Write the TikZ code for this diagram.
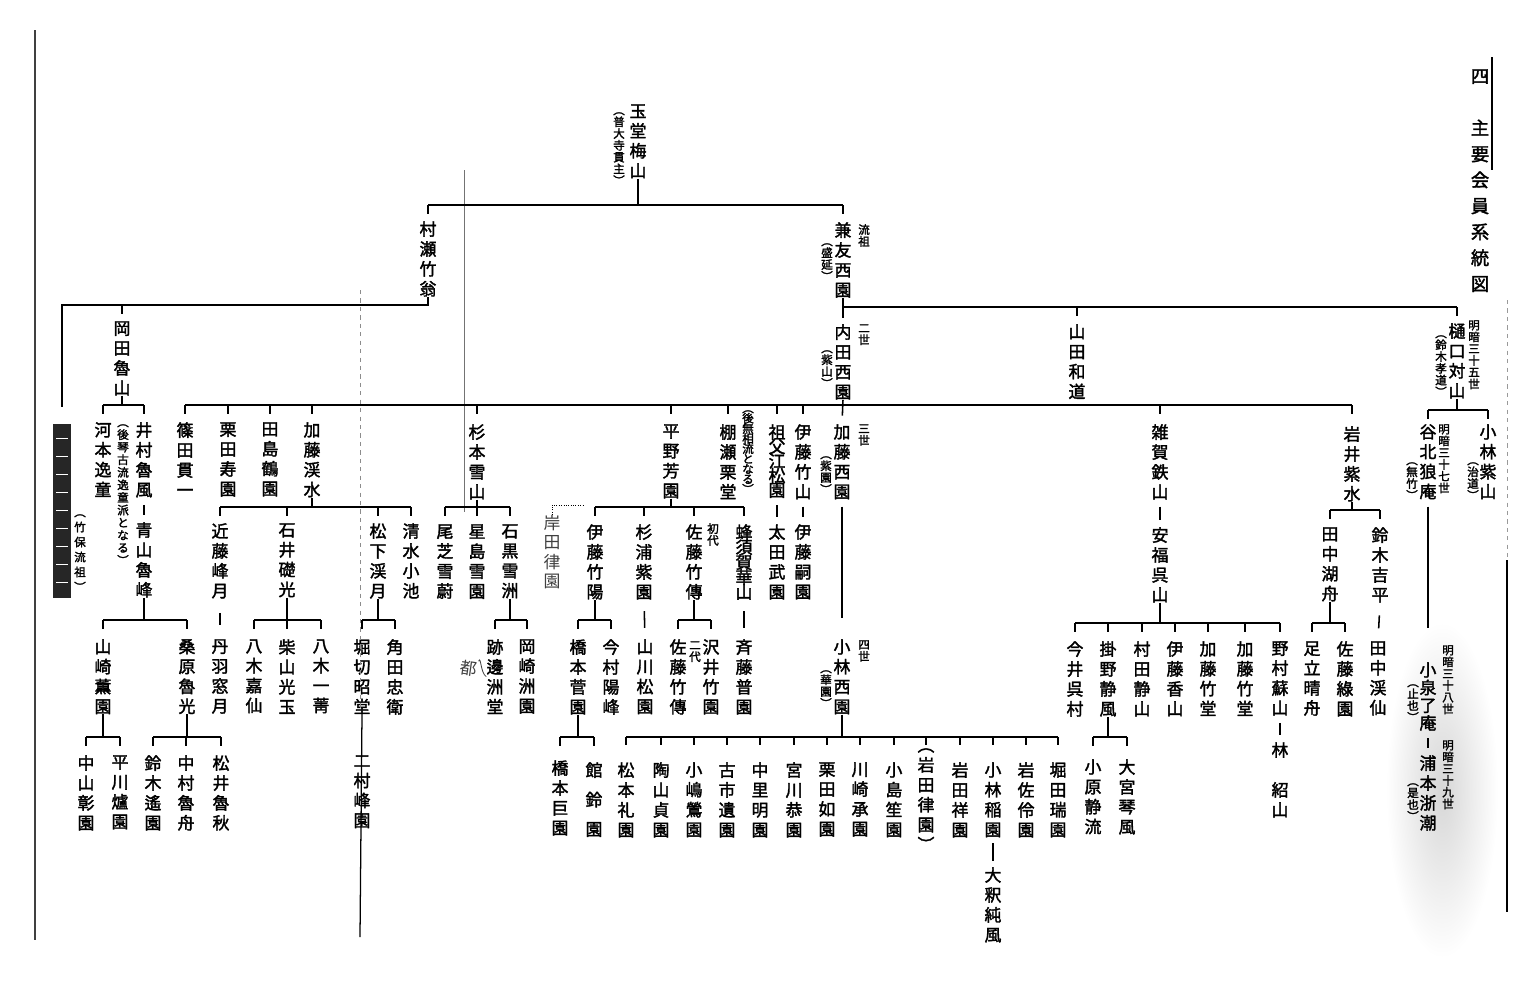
\documentclass[tikz,border=0pt]{standalone}
\usepackage{fontspec}
\setmainfont{Noto Sans CJK JP}
\newfontfamily\jp{Noto Sans CJK JP}[FakeBold=2]
\newfontfamily\jphw{Noto Sans CJK JP}

% texto vertical: un caracter por linea
\makeatletter
\def\tate@fin{\tate@fin}
\def\tate@loop#1{\ifx#1\tate@fin\else\hbox to 1em{\hss#1\hss}\expandafter\tate@loop\fi}
\newcommand\tate[2][\tatepitch]{\vbox{\baselineskip=#1\lineskiplimit=-100pt\lineskip=0pt\tate@loop#2\tate@fin}}
\makeatother
\newcommand\tatepitch{1.18em}
\newcommand\nmfont{\jp\fontsize{12}{14}\selectfont\def\tatepitch{1.18em}}
\newcommand\smfont{\jp\fontsize{8.2}{9}\selectfont\def\tatepitch{1.02em}}
\newcommand\ttlfont{\jp\fontsize{13}{18}\selectfont\def\tatepitch{1.42em}}
\newcommand\hwfont{\jphw\fontsize{12}{14}\selectfont\def\tatepitch{1.15em}}

\begin{document}
\begin{tikzpicture}[
        x=0.025cm, y=-0.025cm,
        nm/.style  = {inner sep=0pt, anchor=north, font=\nmfont},
        sm/.style  = {inner sep=0pt, anchor=north, font=\smfont},
        ttl/.style = {inner sep=0pt, anchor=north, font=\ttlfont},
        hw/.style  = {inner sep=0pt, anchor=north, font=\hwfont, text=black!75},
        ln/.style  = {line width=1.1pt},
        bar/.style = {ln, shorten <=#1, shorten >=#1},
    ]
        \useasboundingbox (0,0) rectangle (1539,1001);
        \fill[white] (0,0) rectangle (1539,1001);
        \shade[inner color=black!16, outer color=white] (1442,790) ellipse [x radius=1.4cm, y radius=4.2cm];

        % ---- niveles de las llaves ----
        \coordinate (h205) at (0,205);
        \coordinate (h305) at (0,305);
        \coordinate (h307) at (0,307);
        \coordinate (h405) at (0,405);
        \coordinate (h410) at (0,410);
        \coordinate (h507) at (0,507);
        \coordinate (h510) at (0,510);
        \coordinate (h620) at (0,620);
        \coordinate (h623) at (0,623);
        \coordinate (h737) at (0,737);

        % ---- titulo ----
        \node (title) [ttl] at (1480,69) {\tate{四　主要会員系統図}};

        % ---- fila 1 y 2 ----
        \node (gyokudo)   [nm] at (638,104) {\tate{玉堂梅山}};
        \node (gyokudoP)  [sm] at (619,112) {\tate{︵普大寺貫主︶}};
        \node (murase)    [nm] at (428,221) {\tate{村瀬竹翁}};
        \node (kanetomo)  [nm] at (843,222) {\tate{兼友西園}};
        \node (kanetomoA) [sm] at (864,224) {\tate{流祖}};
        \node (kanetomoP) [sm] at (827,243) {\tate{︵盛延︶}};

        % ---- fila 3 ----
        \node (okada)     [nm] at (122,321) {\tate{岡田魯山}};
        \node (uchida)    [nm] at (843,324) {\tate{内田西園}};
        \node (uchidaA)   [sm] at (864,324) {\tate{二世}};
        \node (uchidaP)   [sm] at (827,350) {\tate{︵紫山︶}};
        \node (yamada)    [nm] at (1077,324) {\tate{山田和道}};
        \node (higuchi)   [nm] at (1457,323) {\tate{樋口対山}};
        \node (higuchiA)  [sm] at (1474,320) {\tate{明暗三十五世}};
        \node (higuchiP)  [sm] at (1441,335) {\tate{︵鈴木孝道︶}};

        % ---- fila 4 ----
        \node (keshi) [fill=black!85, inner sep=0pt, minimum width=0.45cm,
            minimum height=4.35cm, anchor=north] at (62,424) {};
        \node (keshiP)    [sm] at (80,514) {\tate[1.3em]{︵竹保流祖︶}};
        \node (kawamoto)  [nm] at (103,422) {\tate{河本逸童}};
        \node (imura)     [nm] at (144,422) {\tate{井村魯風}};
        \node (imuraP)    [sm] at (123,424) {\tate[1.09em]{︵後琴古流逸童派となる︶}};
        \node (shinoda)   [nm] at (185,422) {\tate{篠田貫一}};
        \node (kurita)    [nm] at (228,422) {\tate{栗田寿園}};
        \node (tajima)    [nm] at (270,422) {\tate{田島鶴園}};
        \node (katokei)   [nm] at (312,422) {\tate{加藤渓水}};
        \node (sugimoto)  [nm] at (477,424) {\tate{杉本雪山}};
        \node (hirano)    [nm] at (671,424) {\tate{平野芳園}};
        \node (tanase)    [nm] at (728,424) {\tate{棚瀬栗堂}};
        \node (tanaseP)   [sm] at (748,410) {\tate[0.88em]{︵後無相流となる︶}};
        \node (sobue)     [nm] at (777,424) {\tate[0.86em]{祖父江松園}};
        \node (itochiku)  [nm] at (803,424) {\tate{伊藤竹山}};
        \node (katosai)   [nm] at (842,424) {\tate{加藤西園}};
        \node (katosaiA)  [sm] at (864,424) {\tate{三世}};
        \node (katosaiP)  [sm] at (826,456) {\tate{︵紫園︶}};
        \node (zaika)     [nm] at (1160,424) {\tate{雑賀鉄山}};
        \node (iwai)      [nm] at (1352,426) {\tate{岩井紫水}};
        \node (tanikita)  [nm] at (1428,424) {\tate{谷北狼庵}};
        \node (tanikitaA) [sm] at (1444,424) {\tate{明暗三十七世}};
        \node (tanikitaP) [sm] at (1412,462) {\tate{︵無竹︶}};
        \node (kobashi)   [nm] at (1488,424) {\tate{小林紫山}};
        \node (kobashiP)  [sm] at (1473,462) {\tate{︵治道︶}};

        % ---- fila 5 ----
        \node (aoyama)     [nm] at (144,522) {\tate{青山魯峰}};
        \node (kondo)      [nm] at (220,523) {\tate{近藤峰月}};
        \node (ishii)      [nm] at (287,523) {\tate{石井礎光}};
        \node (matsushita) [nm] at (378,523) {\tate{松下渓月}};
        \node (shimizu)    [nm] at (411,523) {\tate{清水小池}};
        \node (oshiba)     [nm] at (445,524) {\tate{尾芝雪蔚}};
        \node (hoshijima)  [nm] at (477,524) {\tate{星島雪園}};
        \node (ishiguro)   [nm] at (510,524) {\tate{石黒雪洲}};
        \node (kishida)    [hw] at (552,515) {\tate{岸田律園}};
        \node (itochikuyo) [nm] at (595,524) {\tate{伊藤竹陽}};
        \node (sugiura)    [nm] at (644,524) {\tate{杉浦紫園}};
        \node (satochiku)  [nm] at (694,524) {\tate{佐藤竹傳}};
        \node (satochikuA) [sm] at (713,523) {\tate{初代}};
        \node (hachisuka)  [nm] at (744,524) {\tate[0.89em]{蜂須賀華山}};
        \node (ota)        [nm] at (777,524) {\tate{太田武園}};
        \node (itotsugu)   [nm] at (803,524) {\tate{伊藤嗣園}};
        \node (yasufuku)   [nm] at (1160,527) {\tate{安福呉山}};
        \node (tanakako)   [nm] at (1330,527) {\tate{田中湖舟}};
        \node (suzukiki)   [nm] at (1380,527) {\tate{鈴木吉平}};

        % ---- fila 6 ----
        \node (yamazaki)   [nm] at (103,639) {\tate{山崎薫園}};
        \node (kuwabara)   [nm] at (187,639) {\tate{桑原魯光}};
        \node (niwa)       [nm] at (220,639) {\tate{丹羽窓月}};
        \node (yagika)     [nm] at (254,639) {\tate{八木嘉仙}};
        \node (shibayama)  [nm] at (287,639) {\tate{柴山光玉}};
        \node (yagiichi)   [nm] at (321,639) {\tate{八木一菁}};
        \node (horikiri)   [nm] at (362,639) {\tate{堀切昭堂}};
        \node (tsunoda)    [nm] at (395,639) {\tate{角田忠衛}};
        \node (atobe)      [nm] at (495,639) {\tate{跡邊洲堂}};
        \node (miyako)     [hw, rotate=-8] at (470,660) {都};
        \node (okazaki)    [nm] at (527,639) {\tate{岡崎洲園}};
        \node (hashimoto)  [nm] at (578,639) {\tate{橋本菅園}};
        \node (imamura)    [nm] at (611,639) {\tate{今村陽峰}};
        \node (yamakawa)   [nm] at (645,639) {\tate{山川松園}};
        \node (satochiku2) [nm] at (678,639) {\tate{佐藤竹傳}};
        \node (satochiku2A)[sm] at (695,641) {\tate{二代}};
        \node (sawai)      [nm] at (711,639) {\tate{沢井竹園}};
        \node (saito)      [nm] at (744,639) {\tate{斉藤普園}};
        \node (kobayashi)  [nm] at (842,639) {\tate{小林西園}};
        \node (kobayashiA) [sm] at (864,640) {\tate{四世}};
        \node (kobayashiP) [sm] at (826,670) {\tate{︵華園︶}};
        \node (imai)       [nm] at (1075,641) {\tate{今井呉村}};
        \node (kakeno)     [nm] at (1108,641) {\tate{掛野静風}};
        \node (murata)     [nm] at (1142,641) {\tate{村田静山}};
        \node (itoko)      [nm] at (1175,641) {\tate{伊藤香山}};
        \node (katochikuA) [nm] at (1208,641) {\tate{加藤竹堂}};
        \node (katochikuB) [nm] at (1245,641) {\tate{加藤竹堂}};
        \node (nomura)     [nm] at (1280,641) {\tate{野村蘇山}};
        \node (adachi)     [nm] at (1312,641) {\tate{足立晴舟}};
        \node (satoryoku)  [nm] at (1345,641) {\tate{佐藤綠園}};
        \node (tanakakei)  [nm] at (1378,641) {\tate{田中渓仙}};
        \node (koizumi)    [nm] at (1428,662) {\tate[1.05em]{小泉了庵}};
        \node (koizumiA)   [sm] at (1448,645) {\tate{明暗三十八世}};
        \node (koizumiP)   [sm] at (1413,684) {\tate{︵止也︶}};

        % ---- fila 7 ----
        \node (nakayama)   [nm] at (86,755)  {\tate{中山彰園}};
        \node (hirakawa)   [nm] at (120,755) {\tate{平川爐園}};
        \node (suzukiyo)   [nm] at (153,755) {\tate{鈴木遙園}};
        \node (nakamura)   [nm] at (186,755) {\tate{中村魯舟}};
        \node (matsui)     [nm] at (221,755) {\tate{松井魯秋}};
        \node (futamura)   [nm] at (362,755) {\tate{二村峰園}};
        \node (hashimotoko)[nm] at (560,760) {\tate{橋本巨園}};
        \node (tachi)      [nm] at (594,762) {\tate[1.75em]{館鈴園}};
        \node (matsumoto)  [nm] at (626,762) {\tate{松本礼園}};
        \node (suyama)     [nm] at (661,762) {\tate{陶山貞園}};
        \node (kojima)     [nm] at (694,762) {\tate{小嶋鶯園}};
        \node (furuichi)   [nm] at (727,762) {\tate{古市遺園}};
        \node (nakazato)   [nm] at (760,762) {\tate{中里明園}};
        \node (miyagawa)   [nm] at (794,762) {\tate{宮川恭園}};
        \node (kuritanyo)  [nm] at (827,762) {\tate{栗田如園}};
        \node (kawasaki)   [nm] at (860,762) {\tate{川崎承園}};
        \node (kojimasho)  [nm] at (894,762) {\tate{小島笙園}};
        \node (iwataritsu) [nm] at (926,748) {\tate{︵岩田律園︶}};
        \node (iwatasho)   [nm] at (960,762) {\tate{岩田祥園}};
        \node (kobainaho)  [nm] at (993,762) {\tate{小林稲園}};
        \node (iwasa)      [nm] at (1026,762) {\tate{岩佐伶園}};
        \node (hotta)      [nm] at (1058,762) {\tate{堀田瑞園}};
        \node (kohara)     [nm] at (1093,759) {\tate{小原静流}};
        \node (omiya)      [nm] at (1127,759) {\tate{大宮琴風}};
        \node (hayashi)    [nm] at (1280,742) {\tate{林　紹山}};
        \node (uramoto)    [nm] at (1428,755) {\tate{浦本浙潮}};
        \node (uramotoA)   [sm] at (1448,740) {\tate{明暗三十九世}};
        \node (uramotoP)   [sm] at (1413,783) {\tate{︵是也︶}};

        % ---- fila 8 ----
        \node (ohshaku)    [nm] at (993,867) {\tate{大釈純風}};

        % ---- bordes de pagina y pliegues ----
        \coordinate (gutter) at (360,937);
        \draw[black!75, line width=0.8pt] (35,30) -- (35,940);
        \draw[black!45, dashed, line width=0.5pt] (360,290) -- (360,712);
        \draw[black!55, line width=0.6pt] (464,170) -- (464,512);
        \draw[black!40, dashed, line width=0.6pt] (1507,300) -- (1507,560);
        \draw[line width=1.6pt] (1507,560) -- (1507,912);
        \draw[line width=0.9pt] (1492,57) -- (1492,170);
        \foreach \yy in {438,456,...,590}
            \draw[white, line width=0.7pt] (56,\yy) -- (68,\yy);

        % ---- generacion 1 ----
        \draw[ln] (gyokudo.south) -- (gyokudo |- h205)
            (murase.north |- h205) -- (kanetomo.north |- h205);
        \foreach \nd in {murase,kanetomo}
            \draw[ln] (\nd.north |- h205) -- ++(0,9);

        % ---- rama de murase ----
        \draw[ln, shorten >=12pt] (murase.south) |- (keshi.north |- h305) -- (keshi.north);
        \draw[ln] (okada.north |- h305) -- ++(0,9);
        \draw[ln] (okada.south) -- (okada |- h405)
            (kawamoto.north |- h405) -- (imura.north |- h405);
        \foreach \nd in {kawamoto,imura}
            \draw[ln] (\nd.north |- h405) -- ++(0,9);

        % ---- rama de kanetomo ----
        \draw[ln, shorten >=4pt] (kanetomo.south) -- (uchida.north);
        \draw[ln] (kanetomo.south |- h307) -- (higuchi.north |- h307);
        \foreach \nd in {yamada,higuchi}
            \draw[ln] (\nd.north |- h307) -- ++(0,9);
        \draw[ln, shorten >=6pt] (uchida.south) -- (katosai.north);
        \draw[ln] (shinoda.north |- h405) -- (iwai.north |- h405);
        \foreach \nd in {shinoda,kurita,tajima,katokei,sugimoto,hirano,tanase,sobue,itochiku,zaika,iwai}
            \draw[ln] (\nd.north |- h405) -- ++(0,9);
        \draw[ln] (higuchi.south) -- (higuchi |- h410)
            (tanikita.north |- h410) -- (kobashi.north |- h410);
        \foreach \nd in {tanikita,kobashi}
            \draw[ln] (\nd.north |- h410) -- ++(0,9);

        % ---- llaves a 507 ----
        \draw[ln] (katokei.south) -- (katokei |- h507)
            (kondo.north |- h507) -- (shimizu.north |- h507);
        \foreach \nd in {kondo,ishii,matsushita,shimizu}
            \draw[ln] (\nd.north |- h507) -- ++(0,9);
        \draw[ln] (sugimoto.south) -- (sugimoto |- h507)
            (oshiba.north |- h507) -- (ishiguro.north |- h507);
        \foreach \nd in {oshiba,hoshijima,ishiguro}
            \draw[ln] (\nd.north |- h507) -- ++(0,9);
        \draw[ln] (hirano.south) -- (hirano |- h507)
            (itochikuyo.north |- h507) -- (hachisuka.north |- h507);
        \foreach \nd in {itochikuyo,sugiura,satochiku,hachisuka}
            \draw[ln] (\nd.north |- h507) -- ++(0,9);
        \coordinate (kishidaend) at (583,505);
        \draw[densely dotted, line width=0.7pt] (kishida.north) |- (kishidaend);
        \draw[ln] (iwai.south) -- (iwai |- h510)
            (tanakako.north |- h510) -- (suzukiki.north |- h510);
        \foreach \nd in {tanakako,suzukiki}
            \draw[ln] (\nd.north |- h510) -- ++(0,9);
        \draw[bar=5pt] (imura.south) -- (aoyama.north);
        \draw[bar=5pt] (sobue.south) -- (ota.north);
        \draw[bar=5pt] (itochiku.south) -- (itotsugu.north);
        \draw[bar=5pt] (zaika.south) -- (yasufuku.north);

        % ---- llaves a 620 ----
        \draw[ln] (aoyama.south) -- (aoyama |- h620)
            (yamazaki.north |- h620) -- (kuwabara.north |- h620);
        \foreach \nd in {yamazaki,kuwabara}
            \draw[ln] (\nd.north |- h620) -- ++(0,9);
        \draw[bar=10pt] (kondo.south) -- (niwa.north);
        \draw[ln] (ishii.south) -- (ishii |- h620)
            (yagika.north |- h620) -- (yagiichi.north |- h620);
        \foreach \nd in {yagika,shibayama,yagiichi}
            \draw[ln] (\nd.north |- h620) -- ++(0,9);
        \draw[ln] (matsushita.south) -- (matsushita |- h620)
            (horikiri.north |- h620) -- (tsunoda.north |- h620);
        \foreach \nd in {horikiri,tsunoda}
            \draw[ln] (\nd.north |- h620) -- ++(0,9);
        \draw[ln] (ishiguro.south) -- (ishiguro |- h620)
            (atobe.north |- h620) -- (okazaki.north |- h620);
        \foreach \nd in {atobe,okazaki}
            \draw[ln] (\nd.north |- h620) -- ++(0,9);
        \draw[ln] (itochikuyo.south) -- (itochikuyo |- h620)
            (hashimoto.north |- h620) -- (imamura.north |- h620);
        \foreach \nd in {hashimoto,imamura}
            \draw[ln] (\nd.north |- h620) -- ++(0,9);
        \draw[bar=8pt] (sugiura.south) -- (yamakawa.north);
        \draw[ln] (satochiku.south) -- (satochiku |- h620)
            (satochiku2.north |- h620) -- (sawai.north |- h620);
        \foreach \nd in {satochiku2,sawai}
            \draw[ln] (\nd.north |- h620) -- ++(0,9);
        \draw[bar=8pt] (hachisuka.south) -- (saito.north);
        \draw[ln, shorten <=5pt, shorten >=15pt] (katosai.south) -- (kobayashi.north);
        \draw[ln] (yasufuku.south) -- (yasufuku |- h623)
            (imai.north |- h623) -- (nomura.north |- h623);
        \foreach \nd in {imai,kakeno,murata,itoko,katochikuA,katochikuB,nomura}
            \draw[ln] (\nd.north |- h623) -- ++(0,9);
        \draw[ln] (tanakako.south) -- (tanakako |- h623)
            (adachi.north |- h623) -- (satoryoku.north |- h623);
        \foreach \nd in {adachi,satoryoku}
            \draw[ln] (\nd.north |- h623) -- ++(0,9);
        \draw[bar=9pt] (suzukiki.south) -- (tanakakei.north);
        \draw[ln, shorten <=5pt, shorten >=24pt] (tanikita.south) -- (koizumi.north);

        % ---- llaves a 737 ----
        \draw[ln] (yamazaki.south) -- (yamazaki |- h737)
            (nakayama.north |- h737) -- (hirakawa.north |- h737);
        \foreach \nd in {nakayama,hirakawa}
            \draw[ln] (\nd.north |- h737) -- ++(0,9);
        \draw[ln] (kuwabara.south) -- (kuwabara |- h737)
            (suzukiyo.north |- h737) -- (matsui.north |- h737);
        \foreach \nd in {suzukiyo,nakamura,matsui}
            \draw[ln] (\nd.north |- h737) -- ++(0,9);
        \draw[line width=0.9pt] (horikiri.south) -- (gutter);
        \draw[ln] (hashimoto.south) -- (hashimoto |- h737)
            (hashimotoko.north |- h737) -- (tachi.north |- h737);
        \foreach \nd in {hashimotoko,tachi}
            \draw[ln] (\nd.north |- h737) -- ++(0,9);
        \draw[ln] (kobayashi.south) -- (kobayashi |- h737)
            (matsumoto.north |- h737) -- (hotta.north |- h737);
        \foreach \nd in {matsumoto,suyama,kojima,furuichi,nakazato,miyagawa,kuritanyo,
                         kawasaki,kojimasho,iwataritsu,iwatasho,kobainaho,iwasa,hotta}
            \draw[ln] (\nd.north |- h737) -- ++(0,8);
        \draw[ln] (kakeno.south) -- (kakeno |- h737)
            (kohara.north |- h737) -- (omiya.north |- h737);
        \foreach \nd in {kohara,omiya}
            \draw[ln] (\nd.north |- h737) -- ++(0,9);
        \draw[bar=5pt] (nomura.south) -- (hayashi.north);
        \draw[bar=5pt] (koizumi.south) -- (uramoto.north);
        \draw[bar=4pt] (kobainaho.south) -- (ohshaku.north);

        % ---- anotacion a mano ----
        \draw[black!75, line width=0.6pt] (miyako.north east) to[out=70, in=150] (atobe.west);
    \end{tikzpicture}
\end{document}
